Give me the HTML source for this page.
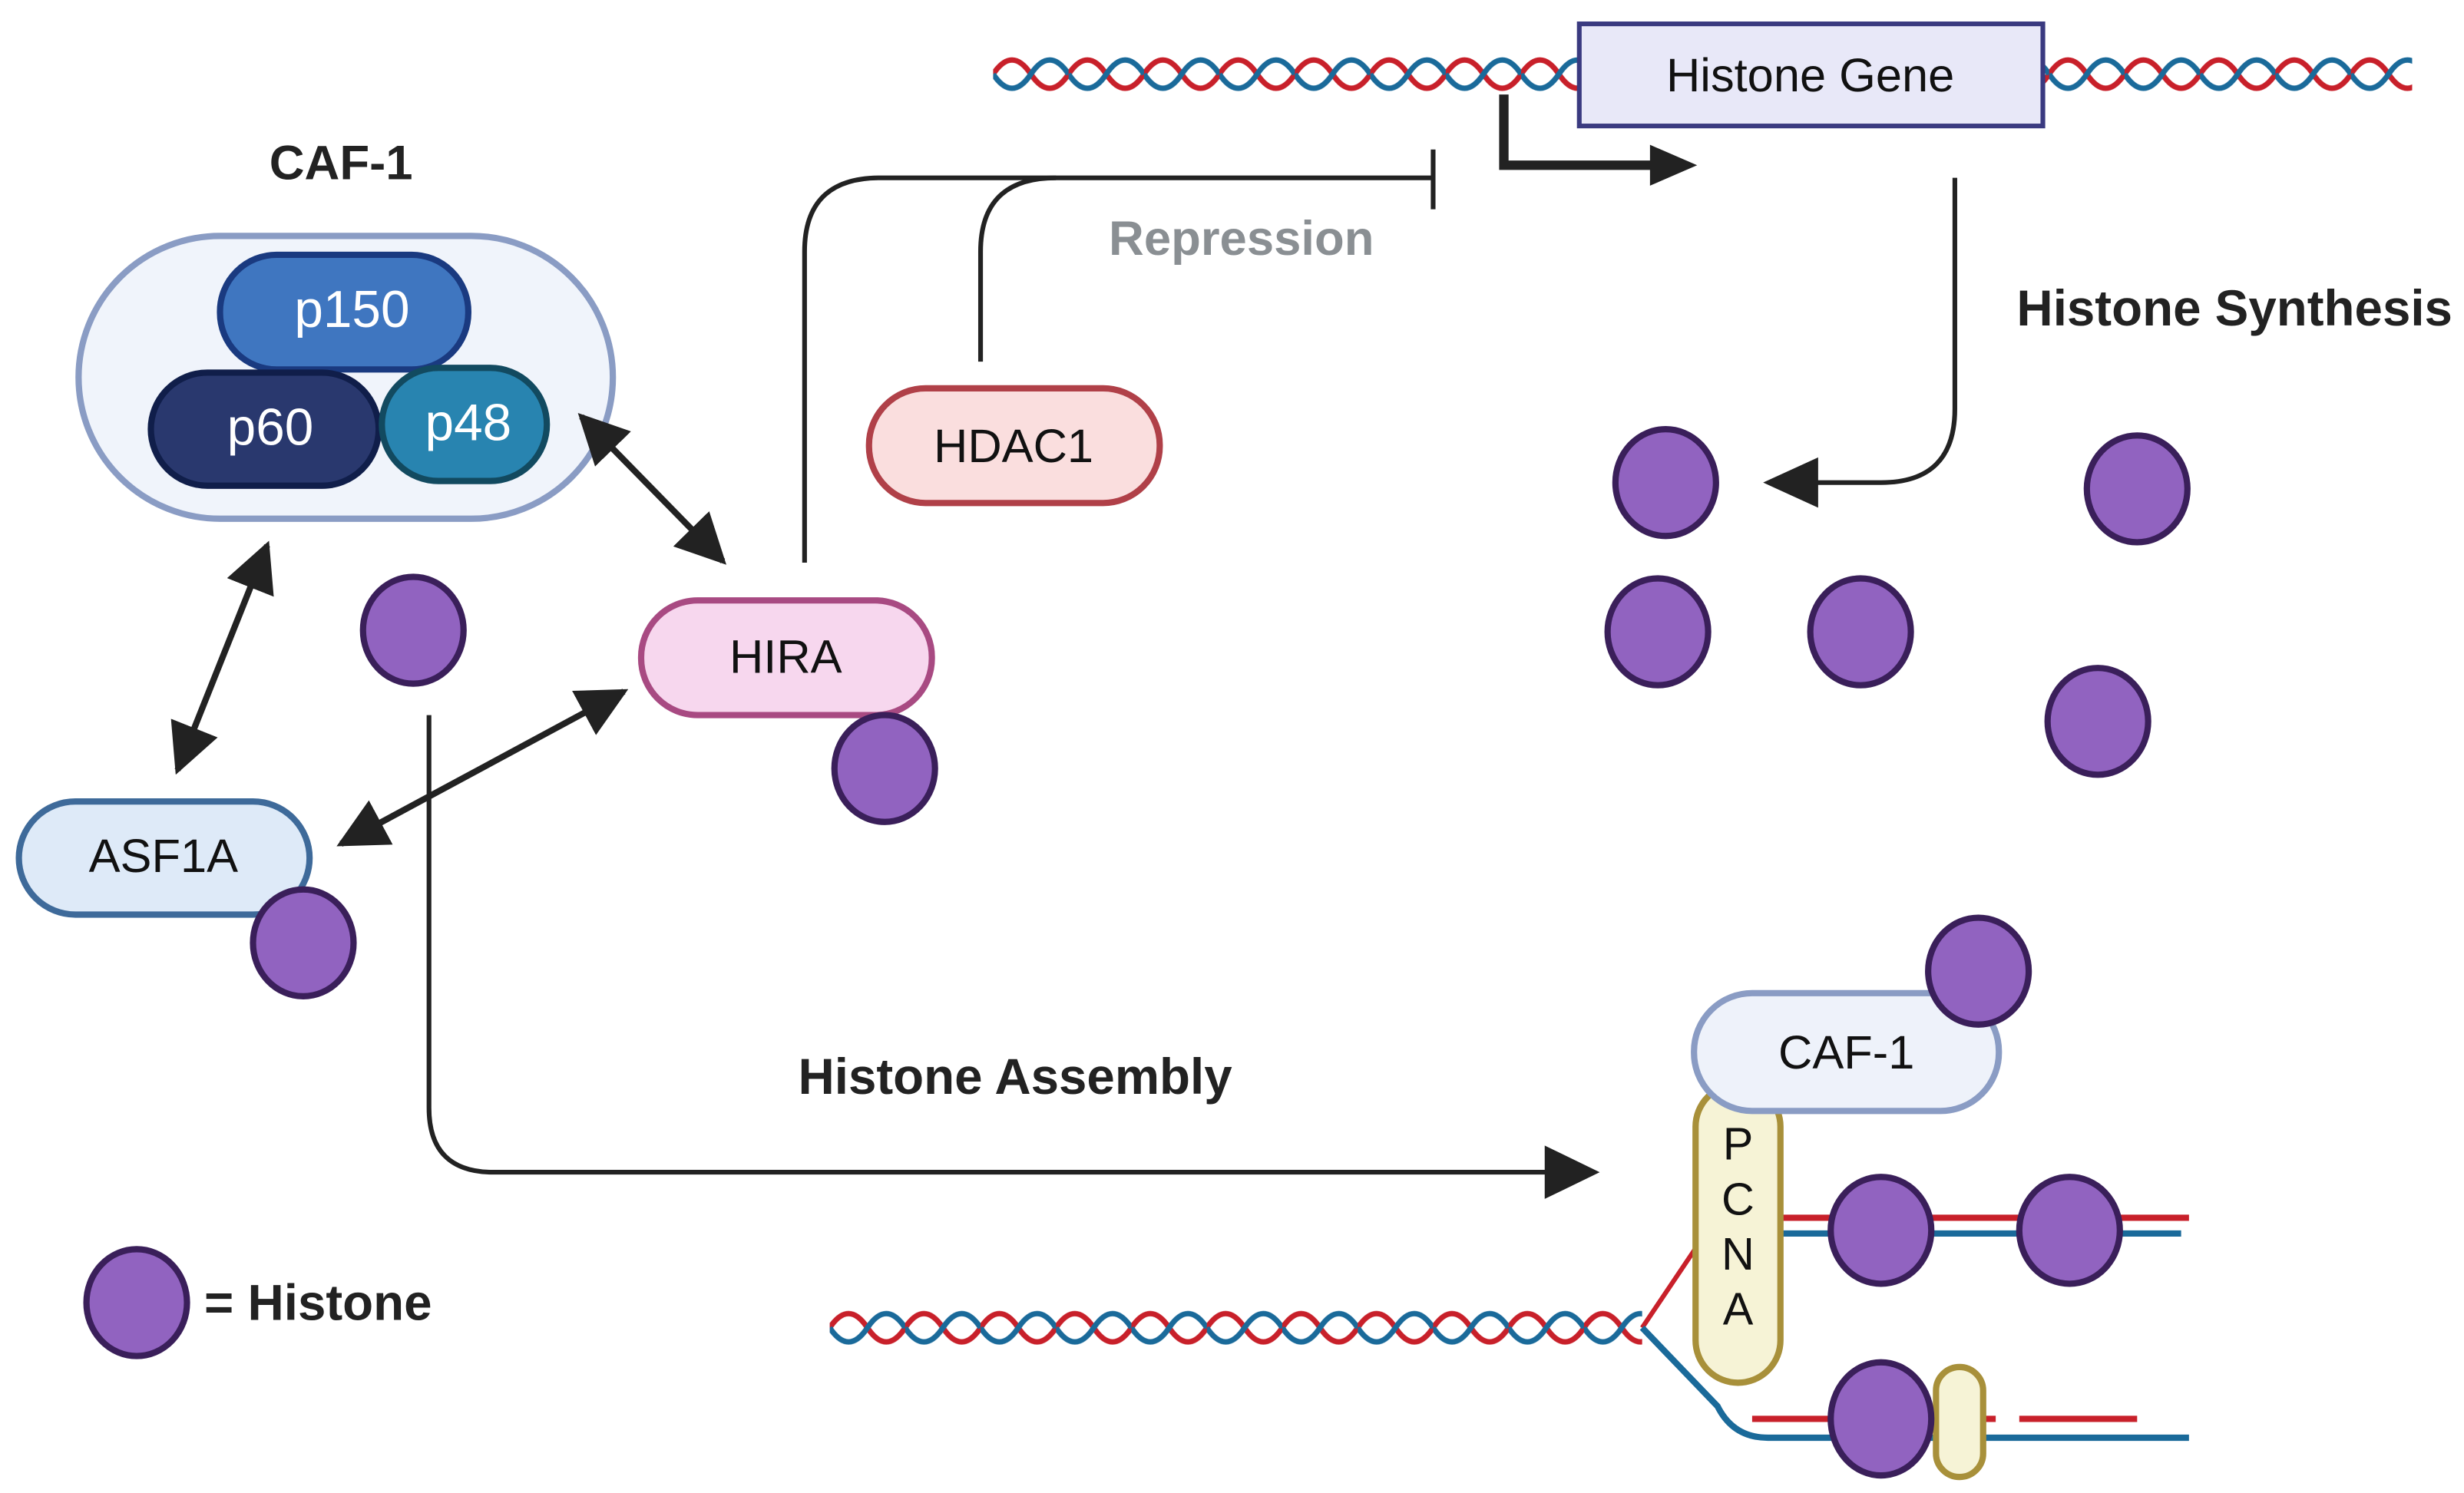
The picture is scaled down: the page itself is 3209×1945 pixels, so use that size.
<!DOCTYPE html>
<html><head><meta charset="utf-8"><style>html,body{margin:0;padding:0;background:#fff}svg{display:block}</style></head>
<body>
<svg width="3209" height="1945" viewBox="0 0 1568 950" xmlns="http://www.w3.org/2000/svg" font-family="Liberation Sans, sans-serif">
<defs>
<pattern id="dna" width="48" height="24" patternUnits="userSpaceOnUse" x="632" y="35">
<path d="M0 12 C8 0,16 0,24 12 S40 24,48 12" fill="none" stroke="#c8202a" stroke-width="3.5"/>
<path d="M0 12 C8 24,16 24,24 12 S40 0,48 12" fill="none" stroke="#1a6a9a" stroke-width="3.5"/>
</pattern>
<pattern id="dna2" width="48" height="24" patternUnits="userSpaceOnUse" x="528" y="833">
<path d="M0 12 C8 0,16 0,24 12 S40 24,48 12" fill="none" stroke="#c8202a" stroke-width="3.5"/>
<path d="M0 12 C8 24,16 24,24 12 S40 0,48 12" fill="none" stroke="#1a6a9a" stroke-width="3.5"/>
</pattern>
<marker id="ah" viewBox="0 0 10 10" refX="9" refY="5" markerWidth="8" markerHeight="8" orient="auto-start-reverse" markerUnits="strokeWidth"><path d="M0 0L10 5L0 10z" fill="#222"/></marker>
</defs>
<g font-size="30">
<rect x="632" y="35" width="373" height="24" fill="url(#dna)"/>
<rect x="1300" y="35" width="235" height="24" fill="url(#dna)"/>
<rect x="1005" y="15" width="295" height="65" fill="#e8e8f8" stroke="#3a3a80" stroke-width="3"/>
<text x="1152" y="58" text-anchor="middle" fill="#111">Histone Gene</text>
<path d="M957 60V105H1052" fill="none" stroke="#222" stroke-width="6"/>
<path d="M1080 105L1050 92V118z" fill="#222"/>

<path d="M512 358V160Q512 113 560 113H912" fill="none" stroke="#222" stroke-width="3"/>
<path d="M624 230V160Q624 113 672 113" fill="none" stroke="#222" stroke-width="3"/>
<path d="M912 95V133" stroke="#222" stroke-width="3"/>
<text x="790" y="162" text-anchor="middle" fill="#8a8f93" font-weight="bold" font-size="31">Repression</text>
<rect x="553" y="247" width="185" height="73" rx="36" fill="#fadede" stroke="#b04048" stroke-width="4"/>
<text x="645" y="294" text-anchor="middle" fill="#111">HDAC1</text>

<text x="217" y="114" text-anchor="middle" font-weight="bold" fill="#222" font-size="31">CAF-1</text>
<rect x="50" y="150" width="340" height="180" rx="90" fill="#f0f4fb" stroke="#8a9cc4" stroke-width="4"/>
<rect x="140" y="162" width="158" height="73" rx="36" fill="#3f76c0" stroke="#1a3a80" stroke-width="4"/>
<text x="224" y="208" text-anchor="middle" fill="#fff" font-size="33">p150</text>
<rect x="96" y="237" width="145" height="72" rx="36" fill="#29386e" stroke="#101e4a" stroke-width="4"/>
<text x="172" y="283" text-anchor="middle" fill="#fff" font-size="33">p60</text>
<rect x="243" y="234" width="105" height="72" rx="36" fill="#2884b0" stroke="#124a60" stroke-width="4"/>
<text x="298" y="280" text-anchor="middle" fill="#fff" font-size="33">p48</text>

<g stroke="#222" stroke-width="4" fill="none">
<path d="M370 265L460 357" marker-start="url(#ah)" marker-end="url(#ah)"/>
<path d="M170 347L113 490" marker-start="url(#ah)" marker-end="url(#ah)"/>
<path d="M397 440L217 537" marker-start="url(#ah)" marker-end="url(#ah)"/>
</g>

<rect x="408" y="382" width="185" height="73" rx="36" fill="#f7d7ee" stroke="#a84a82" stroke-width="4"/>
<text x="500" y="428" text-anchor="middle" fill="#111">HIRA</text>
<rect x="12" y="510" width="185" height="72" rx="36" fill="#deeaf8" stroke="#3e6a9a" stroke-width="4"/>
<text x="104" y="555" text-anchor="middle" fill="#111">ASF1A</text>

<text x="1422" y="207" text-anchor="middle" font-weight="bold" fill="#222" font-size="32">Histone Synthesis</text>
<path d="M1244 113V260Q1244 307 1197 307H1150" fill="none" stroke="#222" stroke-width="3"/>
<path d="M1122 307L1157 291V323z" fill="#222"/>

<path d="M273 455V705Q273 746 314 746H990" fill="none" stroke="#222" stroke-width="3"/>
<path d="M1018 746L983 729V763z" fill="#222"/>
<text x="646" y="696" text-anchor="middle" font-weight="bold" fill="#222" font-size="32">Histone Assembly</text>

<rect x="528" y="833" width="517" height="24" fill="url(#dna2)"/>
<path d="M1045 845L1082 790" stroke="#c8202a" stroke-width="3"/>
<path d="M1045 845L1093 895Q1103 915 1125 915H1393" fill="none" stroke="#1a6a9a" stroke-width="4"/>
<path d="M1130 775H1393" stroke="#c8202a" stroke-width="4"/>
<path d="M1130 785H1388" stroke="#1a6a9a" stroke-width="4"/>
<path d="M1115 903H1270M1285 903H1360" stroke="#c8202a" stroke-width="4"/>
<rect x="1079" y="690" width="54" height="190" rx="27" fill="#f6f3d6" stroke="#a8903a" stroke-width="4"/>
<g text-anchor="middle" fill="#111" font-size="29"><text x="1106" y="738">P</text><text x="1106" y="773">C</text><text x="1106" y="808">N</text><text x="1106" y="843">A</text></g>
<rect x="1078" y="632" width="194" height="75" rx="37" fill="#eef2fa" stroke="#8a9cc4" stroke-width="4"/>
<text x="1175" y="680" text-anchor="middle" fill="#111">CAF-1</text>
<rect x="1232" y="870" width="30" height="70" rx="15" fill="#f6f3d6" stroke="#a8903a" stroke-width="4"/>

<g fill="#9163c0" stroke="#3a1f5a" stroke-width="4">
<ellipse cx="263" cy="401" rx="32" ry="34"/>
<ellipse cx="563" cy="489" rx="32" ry="34"/>
<ellipse cx="193" cy="600" rx="32" ry="34"/>
<ellipse cx="1060" cy="307" rx="32" ry="34"/>
<ellipse cx="1360" cy="311" rx="32" ry="34"/>
<ellipse cx="1055" cy="402" rx="32" ry="34"/>
<ellipse cx="1184" cy="402" rx="32" ry="34"/>
<ellipse cx="1335" cy="459" rx="32" ry="34"/>
<ellipse cx="1259" cy="618" rx="32" ry="34"/>
<ellipse cx="1197" cy="783" rx="32" ry="34"/>
<ellipse cx="1317" cy="783" rx="32" ry="34"/>
<ellipse cx="1197" cy="903" rx="32" ry="36"/>
<ellipse cx="87" cy="829" rx="32" ry="34"/>
</g>
<text x="130" y="840" font-weight="bold" fill="#222" font-size="32">= Histone</text>
</g>
</svg>
</body></html>
